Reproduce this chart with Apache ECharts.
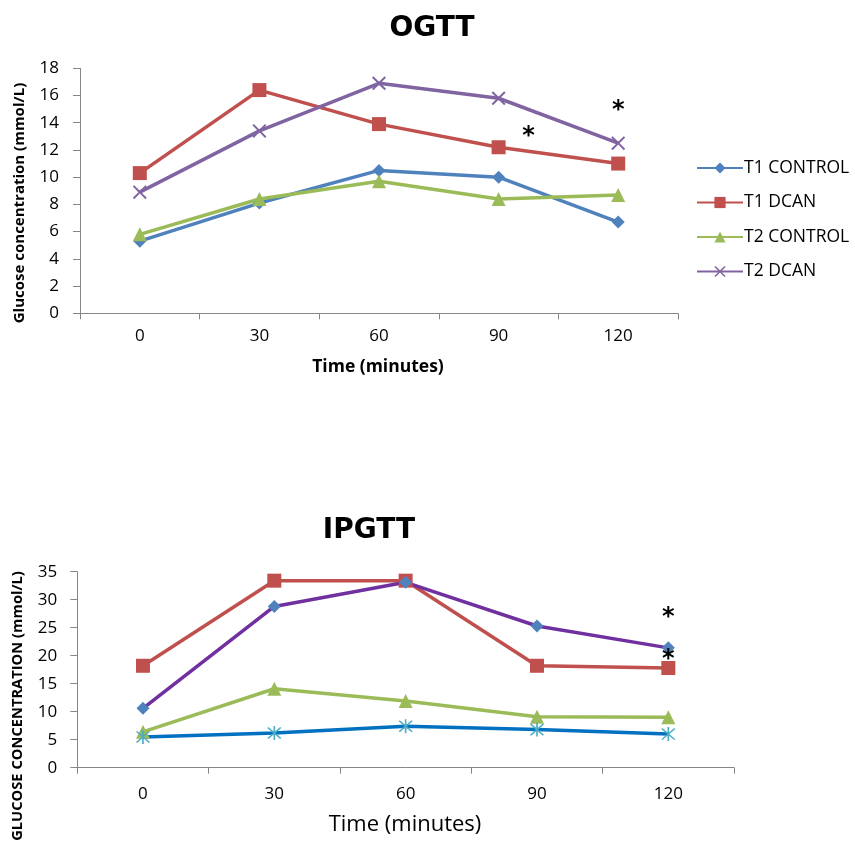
<!DOCTYPE html>
<html><head><meta charset="utf-8">
<script src="https://cdn.jsdelivr.net/npm/echarts@6/dist/echarts.min.js"></script>
<style>html,body{margin:0;padding:0;background:#fff}#c{width:855px;height:843px}</style>
</head><body><div id="c"></div>
<script>
const categories = ['0','30','60','90','120'];
// OGTT
const ogttT1Control = [5.3, 8.1, 10.5, 10.0, 6.7];
const ogttT1Dcan    = [10.3, 16.4, 13.9, 12.2, 11.0];
const ogttT2Control = [5.8, 8.4, 9.7, 8.4, 8.7];
const ogttT2Dcan    = [8.9, 13.4, 16.9, 15.8, 12.5];
const ogttStars = [['90', 13.0], ['120', 14.85]];
// IPGTT
const ipgttRed    = [18.2, 33.4, 33.4, 18.2, 17.8];
const ipgttPurple = [10.6, 28.8, 33.1, 25.3, 21.4];
const ipgttGreen  = [6.4, 14.1, 11.9, 9.1, 9.0];
const ipgttBlue   = [5.5, 6.2, 7.4, 6.8, 6.0];
const ipgttStars = [['120', 26.7], ['120', 19.3]];
const ogttTicks = [0,2,4,6,8,10,12,14,16,18];
const ipgttTicks = [0,5,10,15,20,25,30,35];

const FONT = '"Open Sans", sans-serif';
const TFONT = '"DejaVu Sans", sans-serif';
const xSym = 'path://M0,1L1,0L5,4L9,0L10,1L6,5L10,9L9,10L5,6L1,10L0,9L4,5Z';
const starSym = 'path://M4.5,0L5.5,0L5.5,10L4.5,10Z M0.7,1.4L1.4,0.7L9.3,8.6L8.6,9.3Z M8.6,0.7L9.3,1.4L1.4,9.3L0.7,8.6Z';

const chart = echarts.init(document.getElementById('c'));
const axisLineStyle = {lineStyle:{color:'#868686', width:1}};
function xAx(gi, fs, margin){
  return {type:'category', gridIndex:gi, data:categories, boundaryGap:true,
    axisLine:axisLineStyle, axisTick:{show:true, length:6, lineStyle:{color:'#868686'}},
    axisLabel:{color:'#000', fontSize:fs, fontFamily:FONT, margin:margin}};
}
function yAx(gi, max, interval, fs, margin){
  return {type:'value', gridIndex:gi, min:0, max:max, interval:interval,
    axisLine:{show:true, lineStyle:{color:'#868686'}}, axisTick:{show:true, length:7, lineStyle:{color:'#868686'}},
    splitLine:{show:false},
    axisLabel:{color:'#000', fontSize:fs, fontFamily:FONT, margin:margin}};
}
function starMark(stars, dxs){
  return {symbol:'circle', symbolSize:0, silent:true, animation:false,
    data: stars.map((s,i)=>({coord:s, label:{show:true, formatter:'*', color:'#000', fontSize:24, fontWeight:'bold', fontFamily:'DejaVu Sans', offset:[dxs[i],0]}}))};
}
const option = {
  animation:false,
  title:[
    {text:'OGTT', left:427, top:10, textAlign:'center', textStyle:{fontSize:28, fontWeight:'bold', fontFamily:TFONT, color:'#000'}},
    {text:'IPGTT', left:364, top:512, textAlign:'center', textStyle:{fontSize:28, fontWeight:'bold', fontFamily:TFONT, color:'#000'}}
  ],
  legend:{orient:'vertical', left:691, top:154, itemGap:16.5, itemWidth:46, itemHeight:14,
    data:['T1 CONTROL','T1 DCAN','T2 CONTROL','T2 DCAN'],
    textStyle:{fontSize:17.5, fontFamily:FONT, color:'#000', padding:[0,0,0,-4]}},
  grid:[
    {left:80, right:177, top:68.3, height:245},
    {left:77.3, right:121, top:571.7, height:196}
  ],
  xAxis:[xAx(0,17,14), xAx(1,17,18)],
  yAxis:[yAx(0,18,2,17,21), yAx(1,35,5,17,20)],
  graphic:[
    {type:'text', x:20, y:203, rotation:Math.PI/2, style:{text:'Glucose concentration (mmol/L)', textAlign:'center', textVerticalAlign:'middle', font:'bold 15px '+FONT, fill:'#000'}},
    {type:'text', x:378, y:367, style:{text:'Time (minutes)', textAlign:'center', textVerticalAlign:'middle', font:'bold 17.5px '+FONT, fill:'#000'}},
    {type:'text', x:18, y:706, rotation:Math.PI/2, style:{text:'GLUCOSE CONCENTRATION (mmol/L)', textAlign:'center', textVerticalAlign:'middle', font:'bold 14.7px '+FONT, fill:'#000'}},
    {type:'text', x:405, y:825, style:{text:'Time (minutes)', textAlign:'center', textVerticalAlign:'middle', font:'22px '+FONT, fill:'#000'}}
  ],
  series:[
    {name:'T1 CONTROL', type:'line', xAxisIndex:0, yAxisIndex:0, data:ogttT1Control, symbol:'diamond', symbolSize:13,
      itemStyle:{color:'#4F81BD'}, lineStyle:{width:3.5, color:'#4F81BD'}},
    {name:'T1 DCAN', type:'line', xAxisIndex:0, yAxisIndex:0, data:ogttT1Dcan, symbol:'rect', symbolSize:14,
      itemStyle:{color:'#C0504D'}, lineStyle:{width:3.5, color:'#C0504D'}, markPoint:starMark([ogttStars[0]],[30])},
    {name:'T2 CONTROL', type:'line', xAxisIndex:0, yAxisIndex:0, data:ogttT2Control, symbol:'triangle', symbolSize:14,
      itemStyle:{color:'#9BBB59'}, lineStyle:{width:3.5, color:'#9BBB59'}},
    {name:'T2 DCAN', type:'line', xAxisIndex:0, yAxisIndex:0, data:ogttT2Dcan, symbol:xSym, symbolSize:14,
      itemStyle:{color:'#8064A2'}, lineStyle:{width:3.5, color:'#8064A2'}, markPoint:starMark([ogttStars[1]],[0])},

    {name:'ipRed', type:'line', xAxisIndex:1, yAxisIndex:1, data:ipgttRed, symbol:'rect', symbolSize:14,
      itemStyle:{color:'#C0504D'}, lineStyle:{width:3.5, color:'#C0504D'}},
    {name:'ipPurple', type:'line', xAxisIndex:1, yAxisIndex:1, data:ipgttPurple, symbol:'diamond', symbolSize:13,
      itemStyle:{color:'#4F81BD'}, lineStyle:{width:3.5, color:'#7030A0'}, markPoint:starMark(ipgttStars,[0,0])},
    {name:'ipGreen', type:'line', xAxisIndex:1, yAxisIndex:1, data:ipgttGreen, symbol:'triangle', symbolSize:14,
      itemStyle:{color:'#9BBB59'}, lineStyle:{width:3.5, color:'#9BBB59'}},
    {name:'ipBlue', type:'line', xAxisIndex:1, yAxisIndex:1, data:ipgttBlue, symbol:starSym, symbolSize:14,
      itemStyle:{color:'#4BACC6'}, lineStyle:{width:3.5, color:'#0070C0'}}
  ]
};
chart.setOption(option);
</script></body></html>
